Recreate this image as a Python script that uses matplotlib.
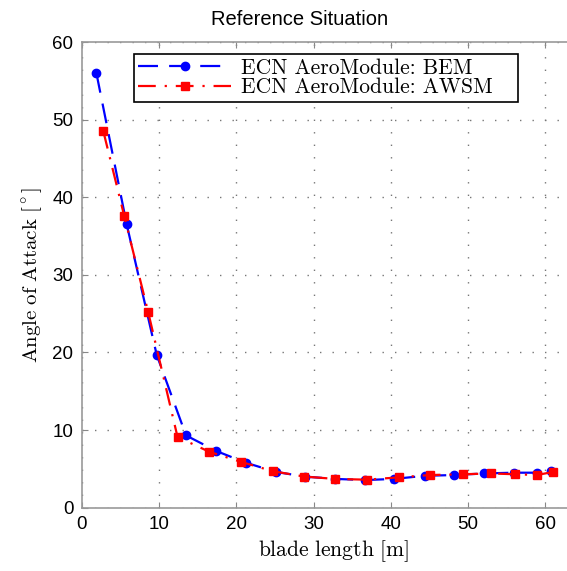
import matplotlib
matplotlib.use("Agg")
import matplotlib.pyplot as plt

# blade radial positions [m] and angle of attack [deg]
bem_r = [1.9, 5.8, 9.7, 13.5, 17.4, 21.2, 25.1, 28.9, 32.8, 36.7, 40.4, 44.4, 48.2, 52.0, 55.9, 58.9, 60.7]
bem_aoa = [56.0, 36.6, 19.7, 9.3, 7.3, 5.8, 4.6, 4.0, 3.7, 3.55, 3.7, 4.1, 4.2, 4.4, 4.5, 4.5, 4.7]

awsm_r = [2.8, 5.5, 8.6, 12.4, 16.5, 20.6, 24.7, 28.8, 32.8, 36.9, 41.0, 45.1, 49.3, 53.0, 56.1, 58.9, 61.0]
awsm_aoa = [48.5, 37.6, 25.2, 9.1, 7.2, 5.9, 4.7, 4.0, 3.7, 3.6, 3.9, 4.2, 4.3, 4.4, 4.3, 4.2, 4.6]

xticks = [0, 10, 20, 30, 40, 50, 60]
yticks = [0, 10, 20, 30, 40, 50, 60]

plt.rcParams["mathtext.fontset"] = "cm"
plt.rcParams["font.family"] = ["Liberation Sans", "DejaVu Sans"]

fig = plt.figure(figsize=(5.67, 5.71), dpi=100)
# axes deliberately runs past the right edge (cropped like the original)
ax = fig.add_axes([0.1441, 0.111, 0.886, 0.8154])

# trailing spaces mimic the wide right padding of the MATLAB legend box
ax.plot(bem_r, bem_aoa, color="#0000ff", lw=1.6, dashes=(9, 5), marker="o",
        ms=6, label="ECN AeroModule: BEM   ")
ax.plot(awsm_r, awsm_aoa, color="#ff0000", lw=1.6, dashes=(8, 4, 1, 4), marker="s",
        ms=5.5, label="ECN AeroModule: AWSM   ")

ax.set_xlim(0, 65)
ax.set_ylim(0, 60)
ax.set_xticks(xticks)
ax.set_yticks(yticks)
ax.tick_params(direction="in", length=4, color="#888888", labelsize=13.5,
               top=True, right=False, pad=6)
for side in ["left", "bottom", "top"]:
    ax.spines[side].set_color("#999999")
    ax.spines[side].set_linewidth(1.2)
ax.spines["right"].set_visible(False)

ax.grid(True, color="#777777", linestyle=(0, (1, 8)), lw=1.0)

fig.text(0.529, 0.956, "Reference Situation", fontsize=14.5, ha="center", va="baseline")
ax.set_xlabel(r"$\mathrm{blade\ length\ [m]}$", fontsize=15.5, labelpad=4)
ax.set_ylabel(r"$\mathrm{Angle\ of\ Attack\ [^\circ]}$", fontsize=15, labelpad=6)

leg = ax.legend(loc="upper left", bbox_to_anchor=(0.104, 0.974),
                prop={"family": "cmr10", "size": 15.5},
                handlelength=4.3, borderpad=0.2, labelspacing=0.0,
                handletextpad=0.45, borderaxespad=0, fancybox=False, framealpha=1,
                edgecolor="black")
leg.get_frame().set_linewidth(1.2)

fig.savefig("out.png", dpi=100)
